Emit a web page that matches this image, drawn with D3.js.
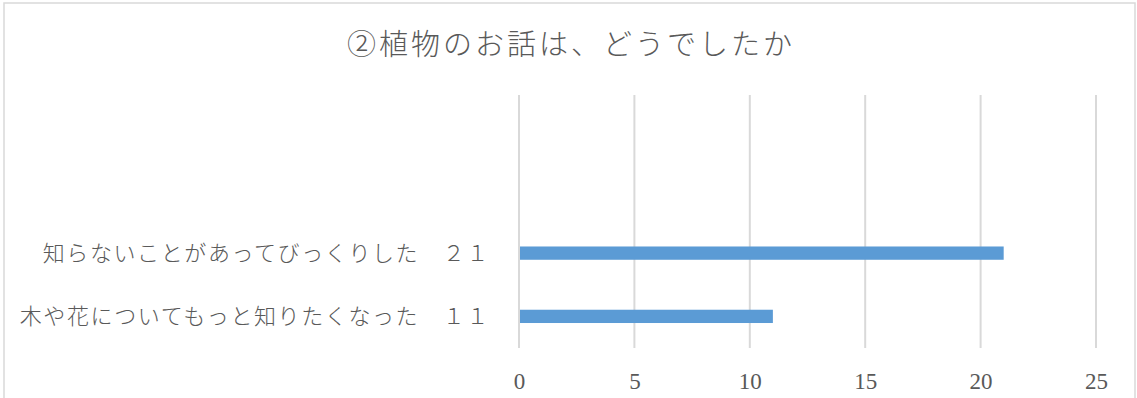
<!DOCTYPE html>
<html>
<head>
<meta charset="utf-8">
<script src="https://cdn.jsdelivr.net/npm/d3@7"></script>
<style>
  body { margin: 0; background: #fff; }
  svg { display: block; }
</style>
</head>
<body>
<div class="chart"></div>
<script>
let title = '②植物のお話は、どうでしたか'

// bottom to top, as in the sheet; the two top rows are empty
let categories = [
	'木や花についてもっと知りたくなった　１１',
	'知らないことがあってびっくりした　２１',
	'',
	''
]
let values = [11, 21, null, null]
let tickValues = [0, 5, 10, 15, 20, 25]

const width = 1137
const height = 398

let svg = d3.select('.chart')
	.append('svg')
	.attr('width', width)
	.attr('height', height)

// chart border
svg.append('rect')
	.attr('x', 4)
	.attr('y', 3)
	.attr('width', 1131)
	.attr('height', 420)
	.attr('fill', 'none')
	.attr('stroke', '#d9d9d9')
	.attr('stroke-width', 1.5)

let plot = { left: 519, right: 1096, top: 95, bottom: 348 }

let x = d3.scaleLinear()
	.domain([0, 25])
	.range([plot.left, plot.right])

let y = d3.scaleBand()
	.domain(d3.range(categories.length))
	.range([plot.bottom, plot.top])
	.paddingInner(0.79)
	.paddingOuter(0.395)

// gridlines
svg.append('g')
	.selectAll('line')
	.data(tickValues)
	.enter().append('line')
	.attr('x1', (d) => x(d))
	.attr('x2', (d) => x(d))
	.attr('y1', plot.top)
	.attr('y2', plot.bottom)
	.attr('stroke', '#d9d9d9')
	.attr('stroke-width', 2)

// bars
svg.append('g')
	.selectAll('rect')
	.data(values.map((v, i) => ({ v: v, i: i })).filter((d) => d.v != null))
	.enter().append('rect')
	.attr('x', x(0) + 1)
	.attr('y', (d) => y(d.i))
	.attr('width', (d) => x(d.v) - x(0) - 1)
	.attr('height', y.bandwidth())
	.attr('fill', '#5b9bd5')

// category labels
svg.append('g')
	.selectAll('text')
	.data(categories)
	.enter().append('text')
	.attr('x', 490)
	.attr('y', (d, i) => y(i) + y.bandwidth() / 2)
	.attr('dy', '0.36em')
	.attr('text-anchor', 'end')
	.style('font-family', '"Liberation Serif", "Noto Sans CJK JP", serif')
	.style('font-size', '22px')
	.style('font-weight', 300)
	.style('letter-spacing', '1.6px')
	.style('fill', '#595959')
	.text((d) => d)

// value axis
let axis = d3.axisBottom(x)
	.tickValues(tickValues)
	.tickSize(0)
	.tickPadding(0)

let ax = svg.append('g')
	.attr('transform', 'translate(0,' + 381 + ')')
	.call(axis)

ax.select('.domain').remove()
ax.selectAll('text')
	.attr('dy', '0.35em')
	.style('font-family', '"Liberation Serif", serif')
	.style('font-size', '23px')
	.style('fill', '#595959')

svg.append('text')
	.attr('x', 571)
	.attr('y', 45)
	.attr('dy', '0.36em')
	.attr('text-anchor', 'middle')
	.style('font-family', '"Noto Sans CJK JP", sans-serif')
	.style('font-size', '29px')
	.style('font-weight', 300)
	.style('letter-spacing', '3px')
	.style('fill', '#595959')
	.text(title)
</script>
</body>
</html>
